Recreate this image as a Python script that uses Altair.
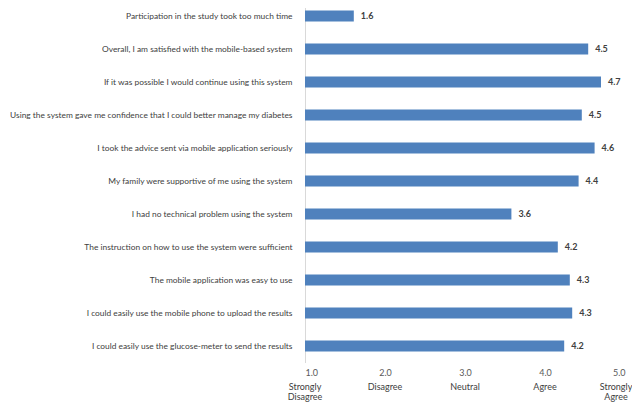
import altair as alt
import pandas as pd

statements = [
    "Participation in the study took too much time",
    "Overall, I am satisfied with the mobile-based system",
    "If it was possible I would continue using this system",
    "Using the system gave me confidence that I could better manage my diabetes",
    "I took the advice sent via mobile application seriously",
    "My family were supportive of me using the system",
    "I had no technical problem using the system",
    "The instruction on how to use the system were sufficient",
    "The mobile application was easy to use",
    "I could easily use the mobile phone to upload the results",
    "I could easily use the glucose-meter to send the results",
]
scores = [1.61, 4.54, 4.70, 4.46, 4.62, 4.42, 3.58, 4.16, 4.31, 4.34, 4.24]
score_labels = ["1.6", "4.5", "4.7", "4.5", "4.6", "4.4", "3.6", "4.2", "4.3", "4.3", "4.2"]

scale_points = [1, 2, 3, 4, 5]
scale_names = ["Strongly\nDisagree", "Disagree", "Neutral", "Agree", "Strongly\nAgree"]

FONT = "Lato"
FS = 8.4

df = pd.DataFrame({"statement": statements, "score": scores, "label": score_labels,
                   "start": [1.0] * len(scores)})
df_scale = pd.DataFrame({"x": scale_points, "name": scale_names})

xscale = alt.Scale(domain=[1, 5], nice=False, zero=False)
yscale = alt.Scale(range=[-8.5, 354.5], paddingInner=0.66, paddingOuter=0.33)

base = alt.Chart(df)

bars = base.mark_bar(color="#4F81BD").encode(
    x=alt.X("start:Q", scale=xscale,
            axis=alt.Axis(title=None, values=scale_points, format=".1f", grid=False,
                          domain=False, ticks=False, labelPadding=6,
                          labelFont=FONT, labelFontSize=9, labelColor="#595959")),
    x2="score:Q",
    y=alt.Y("statement:N", sort=None, scale=yscale,
            axis=alt.Axis(title=None, ticks=False, grid=False, labelPadding=13,
                          labelLimit=400, labelFont=FONT, labelFontSize=FS,
                          labelColor="#404040", domainColor="#D9D9D9")),
)

values = base.mark_text(align="left", baseline="middle", dx=7, fontWeight="bold",
                        font=FONT, fontSize=9, color="#404040").encode(
    x=alt.X("score:Q", scale=xscale),
    y=alt.Y("statement:N", sort=None, scale=yscale),
    text="label:N",
)

name_style = dict(align="center", baseline="top", lineBreak="\n", lineHeight=10,
                  font=FONT, fontSize=9, color="#404040")
name_enc = dict(x=alt.X("x:Q", scale=xscale), y=alt.value(375), text="name:N")

names = alt.Chart(df_scale).transform_filter("datum.x < 5").mark_text(
    **name_style).encode(**name_enc)
names_last = alt.Chart(df_scale).transform_filter("datum.x == 5").mark_text(
    dx=-9, **name_style).encode(**name_enc)

chart = alt.layer(bars, values, names, names_last).properties(
    width=320, height=354,
    autosize=alt.AutoSizeParams(type="none"),
    padding={"left": 297, "top": 0, "right": 7, "bottom": 43},
).configure_view(stroke=None)

chart.save("out.html", embed_options={"renderer": "svg", "actions": False})
